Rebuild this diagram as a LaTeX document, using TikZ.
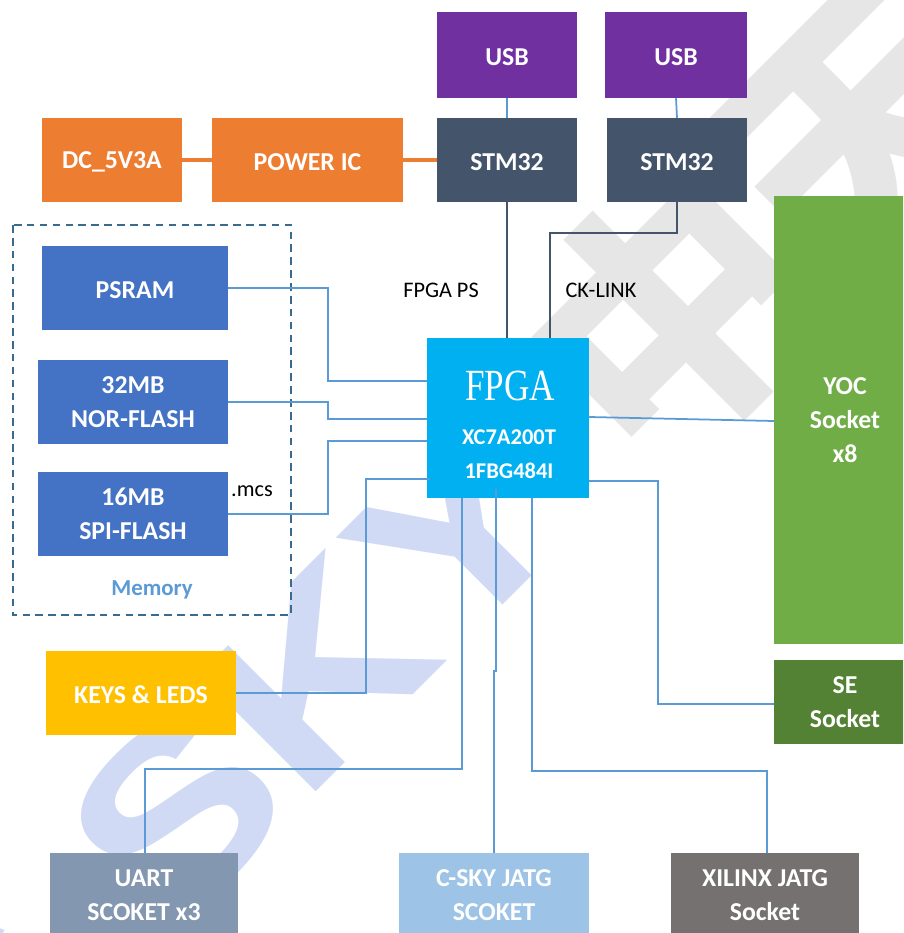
\documentclass[tikz,border=0pt]{standalone}
\usepackage{fontspec}
\setmainfont{Carlito}
\newfontfamily\cjkfont{Noto Sans CJK SC}
\newfontfamily\wordfont{Liberation Serif}
\newfontfamily\brandfont{Liberation Sans}
\definecolor{usbpurple}{HTML}{7030A0}
\definecolor{stmslate}{HTML}{44546A}
\definecolor{powerorange}{HTML}{ED7D31}
\definecolor{memblue}{HTML}{4472C4}
\definecolor{fpgacyan}{HTML}{00B0F0}
\definecolor{yocgreen}{HTML}{70AD47}
\definecolor{sedark}{HTML}{548235}
\definecolor{keysyellow}{HTML}{FFC000}
\definecolor{uartgray}{HTML}{8497B0}
\definecolor{jtagblue}{HTML}{9DC3E6}
\definecolor{xilinxgray}{HTML}{767171}
\definecolor{wireblue}{HTML}{5B9BD5}
\definecolor{dashblue}{HTML}{3B6A8F}
\definecolor{wmblue}{HTML}{D0DAF5}
\definecolor{wmgray}{HTML}{E6E6E6}
\tikzset{
    block/.style n args={3}{rectangle, inner sep=0pt, fill=#1, text=white, align=center,
        minimum width=#2*0.03cm, minimum height=#3*0.03cm,
        font=\fontsize{22}{29}\selectfont\bfseries,
        execute at begin node={\rule{0pt}{17.5pt}}},
    wire/.style={wireblue, line width=1.5pt},
    darkwire/.style={stmslate, line width=1.5pt},
    powerwire/.style={powerorange, line width=2.6pt},
    tag/.style={font=\fontsize{19}{22}\selectfont, text=black, inner sep=0pt}
}
\begin{document}
\begin{tikzpicture}[x=0.03cm, y=-0.03cm]
    \useasboundingbox (0,0) rectangle (903,933);
    \clip (0,0) rectangle (903,933);

    % Watermark
    \node[rotate=45, text=wmblue, font=\fontsize{205}{205}\selectfont\bfseries, inner sep=0pt] (skymark) at (210,781) {\brandfont\scalebox{1.2}[1]{C-SKY}};
    \node[rotate=45, text=wmgray, font=\fontsize{230}{230}\selectfont\bfseries, inner sep=0pt] (cnmark) at (765,221) {\cjkfont 中天};

    % USB and STM32
    \node[block={usbpurple}{140}{86}] (usbone) at (507,55) {USB};
    \node[block={usbpurple}{142}{86}] (usbtwo) at (676,55) {USB};
    \node[block={stmslate}{140}{84}] (stmone) at (507,160) {STM32};
    \node[block={stmslate}{140}{84}] (stmtwo) at (677,160) {STM32};

    % Power
    \node[block={powerorange}{140}{84}] (dc) at (112,160) {DC\_5V3A};
    \node[block={powerorange}{191}{84}] (power) at (307.5,160) {POWER IC};

    % Memory
    \draw[dashblue, line width=1.2pt, dash pattern=on 6.5pt off 4.5pt] (13,225) rectangle (291,615);
    \node[block={memblue}{186}{84}] (psram) at (135,288) {PSRAM};
    \node[block={memblue}{190}{84}] (nor) at (133,402) {32MB\\NOR-FLASH};
    \node[block={memblue}{190}{84}] (spi) at (133,514) {16MB\\SPI-FLASH};
    \node[text=wireblue, inner sep=0pt, font=\fontsize{19.5}{22}\selectfont\bfseries] (memory) at (152,590) {Memory};

    % FPGA
    \node[rectangle, fill=fpgacyan, minimum width=162*0.03cm, minimum height=160*0.03cm, inner sep=0pt] (fpga) at (508,418) {};
    \node[text=white, inner sep=0pt, font=\fontsize{38}{38}\selectfont] (fpganame) at (510,386) {\wordfont\scalebox{.79}[1]{FPGA}};
    \node[text=white, inner sep=0pt, align=center, font=\fontsize{19.2}{29}\selectfont\bfseries] (fpgapart) at (509,454) {XC7A200T\\1FBG484I};

    % Sockets
    \node[block={yocgreen}{142}{448}] (yoc) at (845,420) {YOC\\Socket\\x8};
    \node[block={sedark}{142}{84}] (se) at (845,702) {SE\\Socket};
    \node[block={keysyellow}{190}{84}] (keys) at (141,693) {KEYS \& LEDS};
    \node[block={uartgray}{188}{84}] (uart) at (144,895) {UART\\SCOKET x3};
    \node[block={jtagblue}{190}{84}] (csky) at (494,895) {C-SKY JATG\\SCOKET};
    \node[block={xilinxgray}{188}{84}] (xilinx) at (765,895) {XILINX JATG\\Socket};

    % Labels
    \node[tag] (pslabel) at (441,290) {FPGA PS};
    \node[tag] (cklabel) at (601,290) {CK-LINK};
    \node[tag] (mcslabel) at (252,491) {.mcs};

    % Power lines
    \draw[powerwire] (dc) -- (power);
    \draw[powerwire] (power) -- (stmone);

    % USB to STM32, STM32 to FPGA
    \foreach \a/\b in {usbone/stmone, usbtwo/stmtwo} {
        \draw[wire] (\a.south) -- (\b.north);
    }
    \draw[darkwire] (stmone.south) -- (stmone.south |- fpga.north);
    \draw[darkwire] (stmtwo.south) |- (550,233) -- (550,233 |- fpga.north);

    % Memory to FPGA
    \draw[wire] (psram.east) -| (328,381) -- (fpga.west |- 0,381);
    \draw[wire] (nor.east) -| (328,419) -- (fpga.west |- 0,419);
    \draw[wire] (spi.east) -| (328,441) -- (fpga.west |- 0,441);

    % Keys, UART, JTAG
    \draw[wire] (keys.east) -| (366,479) -- (430,479);
    \draw[wire] (462,498) |- (145,769) -- (145,769 |- uart.north);
    \draw[wire] (496,489) -- (496,671) -- (494,671) -- (csky.north);
    \draw[wire] (532,498) |- (767,771) -- (767,771 |- xilinx.north);

    % Right side sockets
    \draw[wire] (fpga.east |- 0,481) -| (658,704) -- (se.west |- 0,704);
    \draw[wire] (fpga.east |- 0,417) -- (yoc.west |- 0,421);
\end{tikzpicture}
\end{document}
